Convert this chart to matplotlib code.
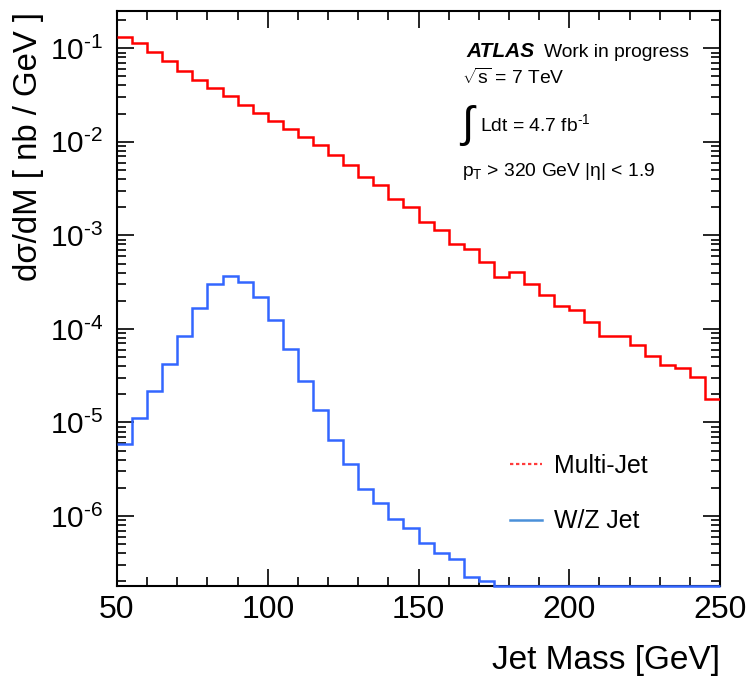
import numpy as np
import matplotlib
matplotlib.use("Agg")
import matplotlib.pyplot as plt
from matplotlib.lines import Line2D
from matplotlib.ticker import LogLocator, MultipleLocator, NullFormatter

plt.rcParams["font.family"] = ["Liberation Sans", "DejaVu Sans"]
plt.rcParams["mathtext.fontset"] = "custom"
plt.rcParams["mathtext.rm"] = "Liberation Sans"
plt.rcParams["mathtext.it"] = "Liberation Sans:italic"
plt.rcParams["mathtext.bf"] = "Liberation Sans:bold"

# jet mass binning: 40 bins of 5 GeV
mass_edges = np.arange(50, 255, 5)

# multi-jet background, dsigma/dM in nb/GeV
multijet = [0.131, 0.113, 0.0906, 0.0726, 0.0578, 0.0455, 0.0374, 0.0305,
            0.0248, 0.0202, 0.0166, 0.0138, 0.0112, 0.0092, 0.00719, 0.00558,
            0.00419, 0.00347, 0.00246, 0.0020, 0.00138, 0.00115, 0.000813,
            0.000719, 0.000518, 0.000357, 0.000404, 0.000304, 0.000228,
            0.000174, 0.000158, 0.000118, 8.3e-5, 8.5e-5, 6.67e-5, 5.09e-5,
            4.07e-5, 3.85e-5, 3.05e-5, 1.79e-5]

# W/Z + jet signal
wz_jet = [5.9e-6, 1.12e-5, 2.15e-5, 4.17e-5, 8.3e-5, 1.68e-4, 2.99e-4,
          3.64e-4, 3.16e-4, 2.19e-4, 1.23e-4, 6.07e-5, 2.8e-5, 1.35e-5,
          6.5e-6, 3.63e-6, 1.96e-6, 1.39e-6, 9.4e-7, 7.45e-7, 5.2e-7,
          4.06e-7, 3.5e-7, 2.23e-7, 2.02e-7, 0, 0, 0, 0, 0, 0, 0, 0, 0, 0,
          0, 0, 0, 0, 0]

series_labels = ["Multi-Jet", "W/Z Jet"]
decades = [1e-6, 1e-5, 1e-4, 1e-3, 1e-2, 1e-1]
decade_labels = [r"$10^{\text{-6}}$", r"$10^{\text{-5}}$", r"$10^{\text{-4}}$",
                 r"$10^{\text{-3}}$", r"$10^{\text{-2}}$", r"$10^{\text{-1}}$"]

y_lo, y_hi = 1.8e-7, 0.25
red = "#ff0000"
blue = "#3366ff"

fig = plt.figure(figsize=(7.51, 6.83), dpi=100)
ax = fig.add_axes([117 / 751, 1 - 585.7 / 683, (720 - 117) / 751, (585.7 - 11) / 683])

ax.set_yscale("log")
ax.stairs(multijet, mass_edges, baseline=None, color=red, lw=1.8, zorder=3)
# empty bins are drawn on the lower frame edge, as ROOT does
ax.stairs(np.maximum(wz_jet, y_lo), mass_edges, baseline=None, color=blue,
          lw=1.8, zorder=3, clip_on=False)

ax.set_xlim(50, 250)
ax.set_ylim(y_lo, y_hi)

ax.xaxis.set_major_locator(MultipleLocator(50))
ax.xaxis.set_minor_locator(MultipleLocator(10))
ax.yaxis.set_minor_locator(LogLocator(base=10, subs=np.arange(2, 10), numticks=20))
ax.yaxis.set_minor_formatter(NullFormatter())
ax.set_yticks(decades)
ax.set_yticklabels(decade_labels)

ax.tick_params(which="both", direction="in", top=True, right=True, width=1.2)
ax.tick_params(which="major", length=12.5)
ax.tick_params(which="minor", length=6.5)
ax.tick_params(axis="x", which="major", pad=7, labelsize=23)
ax.tick_params(axis="y", which="major", pad=10, labelsize=21.5)
for sp in ax.spines.values():
    sp.set_linewidth(1.5)

fig.text(720 / 751, 1 - 661 / 683, "Jet Mass [GeV]", fontsize=24,
         ha="right", va="center")
fig.text(29 / 751, 1 - 12 / 683, "d\u03c3/dM [ nb / GeV ]", fontsize=23.7,
         rotation=90, ha="center", va="top")

# experiment labels, positioned in figure pixels
def fx(px):
    return px / 751

def fy(py):
    return 1 - py / 683

fig.text(fx(466), fy(57), "ATLAS", fontsize=15, fontweight="bold",
         style="italic", va="baseline")
fig.text(fx(544), fy(57), "Work in progress", fontsize=13.9, va="baseline")
fig.text(fx(462), fy(83.5), r"$\sqrt{\mathrm{s}}$ = 7 TeV", fontsize=13.9, va="baseline")
fig.text(fx(459), fy(126), r"$\int$", fontsize=32, va="center")
fig.text(fx(480), fy(131.5), r"Ldt = 4.7 fb$^{\text{-1}}$", fontsize=13.9, va="baseline")
fig.text(fx(462), fy(176.5), r"p$_{\mathrm{T}}$ > 320 GeV |$\mathrm{\eta}$| < 1.9",
         fontsize=13.9, va="baseline")

handles = [Line2D([], [], color="#ff3b3b", lw=1.6, linestyle=(0, (1.5, 1.2))),
           Line2D([], [], color="#4a90d9", lw=1.8)]
fig.legend(handles, series_labels, loc="center left",
           bbox_to_anchor=(fx(510), fy(493.7)), frameon=False, fontsize=17.9,
           handlelength=1.3, handletextpad=0.45, labelspacing=1.25,
           borderpad=0, borderaxespad=0)

fig.savefig("out.png", dpi=100)
